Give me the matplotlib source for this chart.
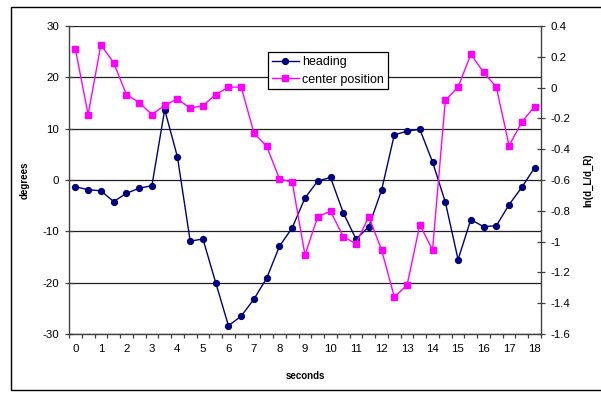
import numpy as np
import matplotlib
matplotlib.use("Agg")
import matplotlib.pyplot as plt
from matplotlib.patches import Rectangle

plt.rcParams['font.family'] = ['Liberation Sans', 'DejaVu Sans']

seconds = np.arange(0, 18.01, 0.5)
heading = [-1.3, -1.9, -2.1, -4.2, -2.6, -1.6, -1.1, 13.7, 4.5, -11.9,
           -11.5, -20.0, -28.4, -26.5, -23.2, -19.1, -12.9, -9.3, -3.5, -0.2,
           0.5, -6.4, -11.5, -9.1, -2.0, 8.8, 9.5, 9.9, 3.5, -4.3,
           -15.5, -7.7, -9.1, -8.9, -4.8, -1.4, 2.4]
center_position = [0.25, -0.175, 0.278, 0.161, -0.045, -0.097, -0.175, -0.115, -0.073, -0.134,
                   -0.117, -0.045, 0.003, 0.003, -0.295, -0.382, -0.593, -0.614, -1.087, -0.838,
                   -0.803, -0.968, -1.014, -0.838, -1.053, -1.359, -1.283, -0.892, -1.053, -0.082,
                   0.003, 0.216, 0.100, 0.003, -0.377, -0.223, -0.123]
x_labels = [str(i) for i in range(19)]
left_ticks = [-30, -20, -10, 0, 10, 20, 30]
right_ticks = [-1.6, -1.4, -1.2, -1, -0.8, -0.6, -0.4, -0.2, 0, 0.2, 0.4]

fig = plt.figure(figsize=(6.01, 3.94), dpi=100)
ax = fig.add_axes([69/601, 1 - 334/394, 472/601, 308/394])
ax2 = ax.twinx()

# gridlines on the left axis
for v in left_ticks:
    ax.axhline(v, color='#202020', lw=0.9, zorder=0)

h1, = ax.plot(seconds, heading, color='#000080', lw=1.0, marker='o', ms=4.2,
              markeredgecolor='#000080', markerfacecolor='#000080', label='heading')
h2, = ax2.plot(seconds, center_position, color='#FF00FF', lw=1.0, marker='s', ms=4.5,
               markeredgecolor='#FF00FF', markerfacecolor='#FF00FF', label='center position')

ax.set_xlim(-0.25, 18.25)
ax.set_ylim(-30, 30)
ax2.set_ylim(-1.6, 0.4)

tick_fs = 8.25
ax.set_xticks(range(19))
ax.set_xticklabels(x_labels, fontsize=tick_fs)
ax.set_xticks(np.arange(-0.25, 18.3, 0.5), minor=True)
ax.tick_params(axis='x', which='major', length=0, pad=7)
ax.tick_params(axis='x', which='minor', length=3, direction='out', width=0.9, color='#404040')

ax.set_yticks(left_ticks)
ax.set_yticklabels([str(v) for v in left_ticks], fontsize=tick_fs)
ax.tick_params(axis='y', length=6, direction='inout', width=0.9, color='#404040', pad=4)

ax2.set_yticks(right_ticks)
ax2.set_yticklabels(['%g' % v for v in right_ticks], fontsize=tick_fs)
ax2.tick_params(axis='y', length=6, direction='inout', width=0.9, color='#404040', pad=4)

for a in (ax, ax2):
    for side in ('top', 'right', 'left', 'bottom'):
        a.spines[side].set_visible(False)
ax.spines['left'].set_visible(True)
ax.spines['bottom'].set_visible(True)
ax2.spines['right'].set_visible(True)
for s in (ax.spines['left'], ax.spines['bottom'], ax2.spines['right']):
    s.set_color('#404040')
    s.set_linewidth(1.0)

title_fs = 7
ax.set_xlabel('seconds', fontsize=title_fs, fontweight='bold')
ax.xaxis.set_label_coords(0.5, -0.12)
ax.set_ylabel('degrees', fontsize=title_fs, fontweight='bold')
ax.yaxis.set_label_coords(-0.083, 0.5)
ax2.set_ylabel('ln(d_L/d_R)', fontsize=title_fs, fontweight='bold')
ax2.yaxis.set_label_coords(1.089, 0.5)

leg = ax2.legend(handles=[h1, h2], loc='upper left', bbox_to_anchor=(0.4216, 0.915),
                 borderaxespad=0, fancybox=False, edgecolor='black', framealpha=1,
                 fontsize=9, handlelength=2.2, handletextpad=0.25, borderpad=0.3,
                 labelspacing=0.45)
leg.get_frame().set_linewidth(0.9)

# outer chart border
fig.patches.append(Rectangle((11/601, 4/394), 595/601, 383/394, transform=fig.transFigure,
                             fill=False, edgecolor='black', lw=1.0))

fig.savefig('out.png', dpi=100)
